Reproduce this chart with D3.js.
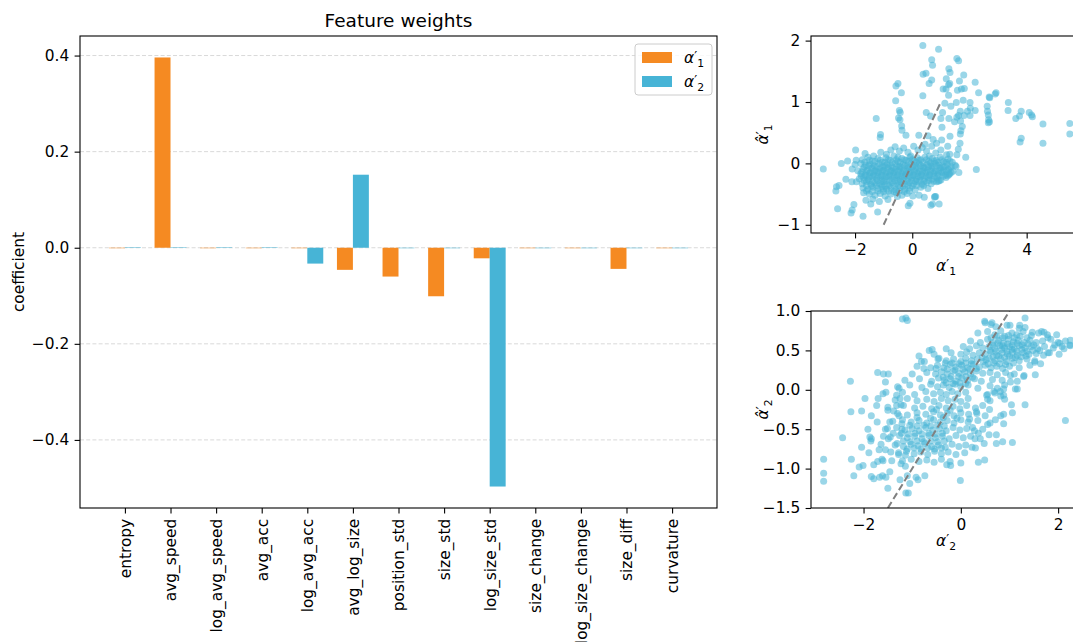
<!DOCTYPE html>
<html>
<head>
<meta charset="utf-8">
<title>Feature weights</title>
<style>
  body { margin: 0; background: #fff; }
  svg { display: block; font-family: "DejaVu Sans", sans-serif; }
</style>
</head>
<body>
<script src="https://cdn.jsdelivr.net/npm/d3@7"></script>
<script>

// ---- data: bar chart ----
var features = ["entropy", "avg_speed", "log_avg_speed", "avg_acc", "log_avg_acc", "avg_log_size",
  "position_std", "size_std", "log_size_std", "size_change", "log_size_change", "size_diff", "curvature"];
var weightsA1 = [-0.001, 0.396, -0.001, -0.001, -0.001, -0.046, -0.060, -0.101, -0.022, -0.001, -0.001, -0.044, -0.001];
var weightsA2 = [0.001, 0.001, 0.001, 0.001, -0.033, 0.152, -0.001, -0.001, -0.497, -0.001, -0.001, -0.001, -0.001];
var barTicks = [-0.4, -0.2, 0.0, 0.2, 0.4];

// ---- data: scatter of alpha'_1 vs its prediction ----
var fit1Ticks = {x: [-2, 0, 2, 4], y: [-1, 0, 1, 2]};
var fit1 = [
  [-3.11,-0.09],[-2.65,-0.38],[-2.56,-0.36],[-2.67,-0.45],[-2.61,-0.74],[-2.14,-0.81],[-2.10,-0.76],[-2.04,-0.67],
  [-1.72,-0.86],[-1.21,-0.79],[-2.32,-0.26],[-2.11,-0.30],[-1.95,-0.30],[-1.98,0.22],[-2.26,0.04],[-2.48,0.00],
  [-2.10,-0.09],[-1.96,0.05],[-1.65,0.16],[-1.26,0.73],[-1.11,0.47],[-1.12,0.42],[-0.57,1.26],[-0.50,1.30],
  [-0.38,1.15],[-0.58,1.02],[-0.45,0.86],[-0.42,0.83],[-0.48,0.74],[-0.43,0.71],[-0.37,0.61],[-0.36,0.54],
  [-0.22,0.46],[0.37,1.92],[0.92,1.86],[0.68,1.69],[0.71,1.60],[0.38,1.45],[0.48,1.47],[0.68,1.36],[0.59,1.30],
  [0.37,1.10],[0.49,0.83],[0.64,0.77],[0.23,0.46],[0.55,0.45],[0.73,0.39],[0.85,0.33],[0.79,-0.54],[0.94,-0.66],
  [1.56,1.71],[1.62,1.67],[1.28,1.54],[1.32,1.48],[1.80,1.44],[1.19,1.38],[1.65,1.34],[1.31,1.30],[1.27,1.28],
  [2.20,1.32],[1.08,1.21],[1.18,1.21],[1.58,1.19],[1.72,1.21],[1.82,1.22],[2.32,1.15],[2.93,1.15],[2.90,1.13],
  [1.27,1.11],[2.71,1.07],[2.69,1.08],[1.78,1.03],[3.36,0.99],[1.14,0.98],[1.54,0.99],[2.02,0.99],[1.35,0.93],
  [2.62,0.93],[2.03,0.90],[3.35,0.86],[3.81,0.85],[4.09,0.83],[4.17,0.79],[4.20,0.76],[1.68,0.85],[1.93,0.85],
  [2.20,0.86],[2.63,0.85],[2.66,0.79],[1.06,0.83],[1.62,0.78],[2.02,0.78],[1.81,0.78],[1.56,0.75],[1.28,0.73],
  [1.00,0.73],[1.48,0.68],[1.69,0.69],[2.67,0.71],[2.70,0.68],[2.66,0.66],[3.62,0.73],[3.75,0.77],[4.57,0.64],
  [5.51,0.65],[5.51,0.48],[3.81,0.41],[3.77,0.35],[4.57,0.33],[1.04,0.59],[1.75,0.60],[1.70,0.53],[1.68,0.48],
  [1.32,0.44],[1.67,0.33],[1.03,0.38],[1.24,0.28],[1.61,0.23],[1.31,0.15],[1.56,0.14],[1.87,0.10],[2.24,-0.10],
  [1.63,-0.15],[1.53,-0.05],[1.29,-0.18],[0.91,-0.29],[0.82,-0.54],[0.24,-0.52],[0.71,-0.66],[-0.52,-0.54],[-1.01,-0.42],
  [-1.35,0.12],[-1.10,0.18],[-0.90,0.15],[-0.75,0.22],[-0.60,0.27],[-0.45,0.20],[-0.30,0.25],[-0.15,0.18],
  [0.05,0.28],[0.20,0.22],[0.35,0.26],[0.50,0.20],[0.68,0.28],[0.82,0.17],[1.00,0.22],[1.20,0.14],[0.45,0.31],
  [-0.05,0.12],[0.60,0.12],[-0.50,0.10],
  [-1.75,0.06],[-1.55,0.10],[-1.40,0.04],[-1.20,0.08],[-1.05,0.02],[-0.92,0.09],[-0.78,0.05],[-0.64,0.12],
  [-0.50,0.03],[-0.36,0.08],[-0.22,0.05],[-0.08,0.10],[0.07,0.04],[0.18,0.09],[0.30,0.06],[0.44,0.10],[0.58,0.03],
  [0.70,0.08],[0.84,0.05],[0.98,0.10],[1.10,0.03],[1.25,0.07],[1.40,0.02],
  [-2.00,-0.02],[-1.80,0.00],[-1.62,-0.03],[-1.48,-0.01],[-1.33,-0.04],[-1.18,0.00],[-1.02,-0.05],[-0.88,-0.02],
  [-0.74,-0.04],[-0.60,0.00],[-0.46,-0.05],[-0.32,-0.02],[-0.18,-0.04],[-0.04,0.00],[0.10,-0.03],[0.24,-0.01],
  [0.38,-0.05],[0.52,-0.02],[0.66,-0.04],[0.80,0.00],[0.94,-0.03],[1.08,-0.05],[1.22,-0.02],[1.36,-0.06],[1.50,-0.03],
  [-1.90,-0.12],[-1.72,-0.09],[-1.56,-0.11],[-1.42,-0.08],[-1.28,-0.12],[-1.14,-0.09],[-1.00,-0.11],[-0.86,-0.08],
  [-0.72,-0.12],[-0.58,-0.10],[-0.44,-0.09],[-0.30,-0.12],[-0.16,-0.08],[-0.02,-0.11],[0.12,-0.09],[0.26,-0.12],
  [0.40,-0.08],[0.54,-0.11],[0.68,-0.09],[0.82,-0.12],[0.96,-0.08],[1.10,-0.11],[1.26,-0.10],[1.42,-0.13],
  [-1.80,-0.17],[-1.65,-0.19],[-1.50,-0.16],[-1.36,-0.18],[-1.22,-0.15],[-1.08,-0.19],[-0.94,-0.16],[-0.80,-0.18],
  [-0.66,-0.15],[-0.52,-0.19],[-0.38,-0.16],[-0.24,-0.18],[-0.10,-0.15],[0.04,-0.19],[0.18,-0.16],[0.32,-0.18],
  [0.46,-0.15],[0.60,-0.19],[0.74,-0.16],[0.88,-0.18],[1.02,-0.15],[1.16,-0.19],[1.30,-0.17],
  [-1.85,-0.25],[-1.70,-0.23],[-1.55,-0.26],[-1.40,-0.22],[-1.25,-0.25],[-1.12,-0.23],[-0.98,-0.26],[-0.84,-0.22],
  [-0.70,-0.25],[-0.56,-0.23],[-0.42,-0.26],[-0.28,-0.22],[-0.14,-0.25],[0.00,-0.23],[0.14,-0.26],[0.28,-0.22],
  [0.42,-0.25],[0.56,-0.23],[0.70,-0.26],[0.86,-0.24],[1.00,-0.27],[1.18,-0.23],
  [-1.75,-0.33],[-1.60,-0.30],[-1.45,-0.34],[-1.30,-0.31],[-1.15,-0.33],[-1.00,-0.30],[-0.85,-0.34],[-0.70,-0.31],
  [-0.55,-0.33],[-0.40,-0.30],[-0.25,-0.34],[-0.10,-0.31],[0.05,-0.33],[0.20,-0.30],[0.35,-0.34],[0.50,-0.31],
  [0.66,-0.33],[0.85,-0.30],
  [-1.72,-0.40],[-1.55,-0.42],[-1.38,-0.39],[-1.20,-0.41],[-1.05,-0.38],[-0.90,-0.42],[-0.74,-0.40],[-0.58,-0.43],
  [-0.42,-0.39],[-0.26,-0.42],[-0.08,-0.40],[0.10,-0.43],[0.30,-0.39],[0.55,-0.41],
  [-1.70,-0.48],[-1.50,-0.50],[-1.30,-0.52],[-1.12,-0.49],[-0.95,-0.53],[-0.75,-0.50],[-0.55,-0.48],[-0.36,-0.52],
  [-0.18,-0.49],[0.02,-0.53],[0.42,-0.55],[0.78,-0.55],
  [-1.62,-0.60],[-1.38,-0.58],[-1.15,-0.62],[-0.85,-0.59],[-0.08,-0.65],[-0.14,-0.69],[0.65,-0.68],[-1.45,-0.66],
  [-1.68,-0.06],[-1.52,-0.04],[-1.38,-0.07],[-1.24,-0.05],[-1.10,-0.07],[-0.96,-0.04],[-0.82,-0.06],[-0.68,-0.07],
  [-0.54,-0.05],[-0.40,-0.06],[-0.26,-0.04],[-0.12,-0.07],[0.02,-0.05],[0.16,-0.06],[0.30,-0.04],[0.44,-0.07],
  [0.58,-0.05],[0.72,-0.06],[0.86,-0.04],[1.00,-0.07],[1.14,-0.05],[1.30,-0.08],
  [-1.76,-0.14],[-1.60,-0.13],[-1.46,-0.15],[-1.32,-0.13],[-1.18,-0.14],[-1.04,-0.13],[-0.90,-0.14],[-0.76,-0.13],
  [-0.62,-0.14],[-0.48,-0.13],[-0.34,-0.14],[-0.20,-0.13],[-0.06,-0.14],[0.08,-0.13],[0.22,-0.14],[0.36,-0.13],
  [0.50,-0.14],[0.64,-0.13],[0.78,-0.14],[0.92,-0.13],[1.06,-0.14],[1.20,-0.13],[1.36,-0.15],
  [-1.78,-0.21],[-1.62,-0.20],[-1.48,-0.21],[-1.33,-0.20],[-1.19,-0.21],[-1.05,-0.20],[-0.91,-0.21],[-0.77,-0.20],
  [-0.63,-0.21],[-0.49,-0.20],[-0.35,-0.21],[-0.21,-0.20],[-0.07,-0.21],[0.07,-0.20],[0.21,-0.21],[0.35,-0.20],
  [0.49,-0.21],[0.63,-0.20],[0.77,-0.21],[0.93,-0.20],[1.08,-0.21],[1.24,-0.20],
  [-1.68,-0.28],[-1.52,-0.28],[-1.38,-0.29],[-1.22,-0.28],[-1.06,-0.29],[-0.92,-0.28],[-0.78,-0.29],[-0.62,-0.28],
  [-0.48,-0.29],[-0.33,-0.28],[-0.18,-0.29],[-0.02,-0.28],[0.12,-0.29],[0.27,-0.28],[0.42,-0.29],[0.58,-0.28],
  [0.75,-0.29],[0.95,-0.28],
  [-1.66,0.02],[-1.50,0.05],[-1.30,0.03],[-1.12,0.05],[-0.96,0.02],[-0.84,0.06],[-0.70,0.02],[-0.56,0.06],
  [-0.42,0.02],[-0.28,0.06],[-0.14,0.03],[0.00,0.06],[0.14,0.02],[0.24,0.05],[0.37,0.02],[0.50,0.06],[0.64,0.01],
  [0.77,0.04],[0.90,0.02],[1.04,0.06],[1.18,0.02],[1.32,0.04],
  [-1.60,-0.36],[-1.42,-0.37],[-1.25,-0.36],[-1.08,-0.35],[-0.95,-0.37],[-0.80,-0.36],[-0.63,-0.37],[-0.48,-0.36],
  [-0.32,-0.37],[-0.16,-0.36],[0.00,-0.37],[0.15,-0.36],[0.40,-0.36],
  [-1.60,-0.45],[-1.40,-0.46],[-1.20,-0.45],[-1.00,-0.46],[-0.82,-0.45],[-0.64,-0.46],[-0.46,-0.45],[-0.28,-0.46],[-0.10,-0.45]
];

// ---- data: scatter of alpha'_2 vs its prediction ----
var fit2Ticks = {x: [-2, 0, 2], y: [-1.5, -1.0, -0.5, 0.0, 0.5, 1.0]};
var fit2 = [
  [-2.82,-0.88],[-2.82,-1.06],[-2.82,-1.16],[-2.43,-0.61],[-2.27,0.11],[-2.26,-0.28],[-2.25,-0.88],[-2.20,-1.09],
  [-2.09,-0.98],[-2.01,-0.96],[-2.04,-0.73],[-2.04,-0.27],[-1.97,-0.11],[-1.84,-0.33],[-1.91,-0.50],[-1.87,-0.60],
  [-1.89,-0.80],[-1.84,-1.10],[-1.79,-0.95],[-1.79,-1.13],[-1.84,-0.62],[-1.85,-0.65],[-1.72,-0.41],[-1.73,-0.20],
  [-1.70,-0.11],[-1.71,0.22],[-1.59,0.20],[-1.49,0.20],[-1.55,0.10],[-1.54,-0.03],[-1.50,-0.26],[-1.68,-0.76],
  [-1.71,-0.91],[-1.62,-0.88],[-1.59,-0.59],[-1.55,-0.76],[-1.64,-0.69],[-1.60,-0.90],[-1.61,-1.09],[-1.67,-1.11],
  [-1.54,-1.11],[-1.50,-1.25],[-1.46,-1.04],[-1.42,-0.90],[-1.44,-0.79],[-1.49,-0.62],[-1.51,-0.49],[-1.39,-0.55],
  [-1.46,-0.41],[-1.38,-0.27],[-1.32,-0.07],[-1.32,-0.20],[-1.27,0.02],[-1.25,-0.11],[-1.23,-0.19],[-1.27,-0.33],
  [-1.21,-0.43],[-1.21,-0.50],[-1.31,-0.68],[-1.28,-0.82],[-1.23,-0.94],[-1.25,-1.14],[-1.13,0.91],[-1.20,0.90],
  [-1.10,0.88],[-1.13,-1.31],[-1.08,-1.31],[-1.05,-1.19],[-1.10,-1.09],[-1.14,-0.97],[-1.14,-0.83],[-0.88,-1.14],
  [-0.92,-1.11],[-0.74,-1.09],[-0.86,0.43],[-0.81,0.36],[-0.76,0.27],[-0.65,0.50],[-0.59,0.51],[-0.47,0.39],[-0.51,0.27],
  [0.49,0.87],[0.64,0.85],[1.32,0.91],[1.01,0.82],[1.21,0.82],[1.32,0.79],[1.47,0.73],[1.66,0.74],[1.71,0.73],
  [1.97,0.70],[2.25,0.63],[2.24,0.57],[2.12,0.52],[2.02,0.45],[1.93,0.57],[2.03,0.59],[1.79,0.66],[1.79,0.47],
  [1.64,0.33],[1.52,0.37],[1.53,0.19],[1.29,0.17],[1.16,0.11],[1.16,0.01],[1.04,-0.19],[1.32,-0.19],[2.15,-0.39],
  [1.06,-0.29],[0.88,-0.31],[0.88,-0.43],[0.82,-0.33],[0.71,-0.38],[0.59,-0.25],[0.60,-0.42],[0.58,-0.57],
  [0.73,-0.57],[0.73,-0.68],[0.86,-0.66],[1.06,-0.67],[0.48,-0.68],[0.36,-0.55],[0.49,-0.89],[0.36,-0.92],
  [-0.01,-1.15],[0.00,-0.93],[-0.21,-0.96],[-0.29,-0.95],[0.23,-0.73],[0.29,-0.62],[0.24,-0.48],[0.18,-0.37],
  [0.33,-0.30],[0.53,-0.07],[0.55,-0.12],[0.68,-0.02],[0.88,-0.07],[0.81,-0.02],[0.88,0.01],[1.12,0.01],[1.02,0.18],
  [0.50,0.85],[0.62,0.83],[0.72,0.80],[0.95,0.82],[1.20,0.78],
  [0.35,0.72],[0.55,0.74],[0.70,0.70],[0.82,0.75],[0.90,0.68],[1.05,0.72],[1.15,0.70],[1.28,0.74],[1.45,0.69],[1.60,0.72],[1.78,0.70],
  [0.20,0.62],[0.40,0.60],[0.55,0.64],[0.66,0.60],[0.78,0.63],[0.88,0.59],[0.98,0.64],[1.08,0.61],[1.18,0.63],
  [1.30,0.60],[1.42,0.63],[1.55,0.60],[1.68,0.62],[1.85,0.64],[2.00,0.60],[2.15,0.62],
  [-0.30,0.52],[0.05,0.55],[0.18,0.52],[0.32,0.56],[0.45,0.53],[0.58,0.55],[0.70,0.52],[0.80,0.56],[0.90,0.53],
  [1.00,0.55],[1.10,0.52],[1.20,0.56],[1.32,0.53],[1.45,0.55],[1.58,0.52],[1.72,0.55],[1.90,0.53],[2.08,0.55],[2.25,0.56],
  [-0.55,0.45],[-0.20,0.47],[0.00,0.45],[0.12,0.48],[0.25,0.44],[0.38,0.47],[0.50,0.45],[0.62,0.48],[0.74,0.44],
  [0.85,0.47],[0.96,0.45],[1.06,0.48],[1.16,0.44],[1.28,0.47],[1.40,0.45],[1.55,0.46],[1.70,0.44],[1.82,0.47],
  [-0.75,0.36],[-0.45,0.40],[-0.30,0.37],[-0.15,0.39],[0.00,0.36],[0.10,0.40],[0.22,0.37],[0.34,0.39],[0.46,0.36],
  [0.58,0.40],[0.70,0.37],[0.82,0.39],[0.94,0.36],[1.06,0.40],[1.20,0.37],[1.36,0.39],[1.52,0.35],
  [-0.90,0.30],[-0.62,0.28],[-0.48,0.31],[-0.35,0.28],[-0.22,0.32],[-0.10,0.29],[0.02,0.31],[0.14,0.28],[0.26,0.32],
  [0.38,0.29],[0.50,0.31],[0.62,0.28],[0.74,0.30],[0.86,0.27],[1.00,0.30],[1.20,0.28],[1.42,0.31],
  [-1.00,0.20],[-0.70,0.22],[-0.52,0.20],[-0.40,0.23],[-0.28,0.20],[-0.16,0.24],[-0.04,0.21],[0.08,0.23],[0.20,0.20],
  [0.32,0.24],[0.45,0.21],[0.60,0.22],[0.75,0.19],[0.92,0.22],[1.10,0.20],[1.30,0.18],
  [-1.15,0.12],[-0.85,0.14],[-0.60,0.11],[-0.46,0.15],[-0.34,0.12],[-0.22,0.14],[-0.10,0.11],[0.02,0.15],[0.14,0.12],
  [0.28,0.14],[0.42,0.11],[0.65,0.13],[0.85,0.12],[1.02,0.10],
  [-1.30,0.04],[-1.05,0.06],[-0.80,0.03],[-0.62,0.07],[-0.48,0.04],[-0.36,0.06],[-0.24,0.03],[-0.12,0.07],[0.00,0.04],
  [0.15,0.06],[0.35,0.02],[0.60,0.05],[0.75,0.02],[0.90,0.06],
  [-1.60,-0.05],[-1.20,-0.03],[-0.95,-0.06],[-0.72,-0.02],[-0.56,-0.05],[-0.42,-0.03],[-0.30,-0.06],[-0.18,-0.02],
  [-0.06,-0.05],[0.10,-0.03],[0.55,-0.06],[0.70,-0.04],[0.82,-0.08],
  [-1.35,-0.13],[-1.10,-0.11],[-0.90,-0.14],[-0.70,-0.12],[-0.55,-0.15],[-0.40,-0.11],[-0.26,-0.14],[-0.12,-0.12],
  [0.00,-0.15],[0.15,-0.11],[0.60,-0.14],[0.90,-0.12],
  [-1.50,-0.22],[-1.18,-0.20],[-0.95,-0.23],[-0.78,-0.21],[-0.60,-0.24],[-0.45,-0.20],[-0.30,-0.23],[-0.16,-0.21],
  [-0.02,-0.24],[0.12,-0.20],[0.30,-0.23],[0.45,-0.20],
  [-1.30,-0.30],[-1.10,-0.32],[-0.90,-0.29],[-0.72,-0.31],[-0.56,-0.28],[-0.42,-0.32],[-0.28,-0.30],[-0.14,-0.33],
  [0.00,-0.29],[0.16,-0.31],[0.32,-0.28],[0.50,-0.33],
  [-1.40,-0.40],[-1.20,-0.38],[-1.02,-0.41],[-0.86,-0.39],[-0.70,-0.42],[-0.56,-0.38],[-0.42,-0.41],[-0.28,-0.39],
  [-0.14,-0.42],[0.00,-0.38],[0.15,-0.41],[0.35,-0.39],[0.55,-0.44],
  [-1.55,-0.50],[-1.32,-0.48],[-1.15,-0.51],[-1.00,-0.49],[-0.86,-0.52],[-0.72,-0.48],[-0.58,-0.51],[-0.44,-0.49],
  [-0.30,-0.52],[-0.16,-0.48],[-0.02,-0.51],[0.12,-0.49],[0.28,-0.52],[0.45,-0.50],
  [-1.45,-0.60],[-1.26,-0.58],[-1.10,-0.61],[-0.95,-0.59],[-0.80,-0.62],[-0.66,-0.58],[-0.52,-0.61],[-0.38,-0.59],
  [-0.24,-0.62],[-0.10,-0.58],[0.05,-0.61],[0.20,-0.59],[0.40,-0.62],
  [-1.35,-0.70],[-1.18,-0.72],[-1.02,-0.69],[-0.88,-0.71],[-0.74,-0.68],[-0.60,-0.72],[-0.46,-0.70],[-0.32,-0.73],
  [-0.18,-0.69],[-0.04,-0.72],[0.10,-0.70],[0.30,-0.74],
  [-1.28,-0.80],[-1.12,-0.78],[-0.96,-0.81],[-0.82,-0.79],[-0.68,-0.82],[-0.54,-0.78],[-0.40,-0.81],[-0.26,-0.79],
  [-0.10,-0.82],[0.08,-0.80],
  [-1.20,-0.90],[-1.02,-0.88],[-0.86,-0.91],[-0.70,-0.89],[-0.55,-0.92],[-0.40,-0.88],[-0.22,-0.91],
  [0.62,0.66],[0.74,0.68],[0.86,0.66],[0.98,0.69],[1.10,0.66],[1.22,0.68],[1.36,0.66],
  [0.66,0.57],[0.76,0.59],[0.86,0.56],[0.96,0.58],[1.06,0.57],[1.16,0.59],[1.26,0.57],[1.38,0.58],[1.50,0.57],
  [0.60,0.50],[0.72,0.49],[0.84,0.51],[0.95,0.49],[1.05,0.51],[1.15,0.49],[1.25,0.51],[1.36,0.49],[1.48,0.50],[1.62,0.50],
  [0.66,0.42],[0.78,0.43],[0.90,0.41],[1.00,0.43],[1.12,0.41],[1.24,0.42],[1.34,0.43],
  [0.44,0.41],[0.52,0.38],[0.56,0.33],[0.68,0.34],[0.80,0.33],[0.92,0.32],[1.08,0.34],
  [-0.36,0.16],[-0.28,0.26],[-0.20,0.17],[-0.12,0.25],[-0.05,0.17],[0.04,0.26],[0.10,0.17],[0.18,0.26],[0.24,0.16],
  [0.32,0.27],[-0.32,0.34],[-0.18,0.34],[-0.04,0.33],[0.10,0.34],[0.22,0.33],[-0.30,0.09],[-0.16,0.08],[-0.02,0.09],[0.10,0.08],
  [-1.22,-0.55],[-1.08,-0.56],[-0.94,-0.55],[-0.80,-0.56],[-0.66,-0.55],[-0.52,-0.56],[-0.38,-0.55],
  [-1.18,-0.65],[-1.04,-0.66],[-0.90,-0.65],[-0.76,-0.66],[-0.62,-0.65],[-0.48,-0.66],[-0.34,-0.65],
  [-1.10,-0.75],[-0.96,-0.74],[-0.82,-0.75],[-0.68,-0.74],[-0.54,-0.75],[-0.40,-0.74],
  [-1.05,-0.45],[-0.90,-0.46],[-0.76,-0.45],[-0.62,-0.46],[-0.48,-0.45],[-0.34,-0.46],
  [-0.90,-0.35],[-0.62,-0.36],[-0.50,-0.25],[-0.36,-0.35],[-0.22,-0.26],[-0.08,-0.36]
];

var orange = "#f58a22", blue = "#47b4d6";
var fs = 15.4, tickLen = 5.4, tickPad = 5.4;

var svg = d3.select("body").append("svg")
  .attr("width", 1073)
  .attr("height", 642);

svg.append("rect").attr("width", 1073).attr("height", 642).attr("fill", "#fff");

// style an axis group the matplotlib way
function styleAxis(g){
  g.select(".domain").remove();
  g.selectAll(".tick line").attr("stroke", "#000").attr("stroke-width", 1.1);
  g.selectAll(".tick text").attr("fill", "#000").style("font-size", fs + "px")
    .style("font-family", "'DejaVu Sans', sans-serif");
}

// italic alpha with prime and subscript, optional hat
function alphaLabel(t, hat, idx){
  t.style("font-style", "italic").style("font-size", fs + "px");
  t.append("tspan").text(hat ? "\u03b1\u0302" : "\u03b1");
  t.append("tspan").attr("font-size", "0.85em").attr("dy", "-0.2em").style("font-style", "normal").text("\u2032");
  t.append("tspan").attr("font-size", "0.7em").style("font-style", "normal")
    .attr("dy", "0.65em").text(idx);
}

// ================= bar chart =================
var bx = d3.scaleLinear().domain([-0.985, 12.985]).range([80, 717]);
var by = d3.scaleLinear().domain([-0.5417, 0.4407]).range([508, 36]);
var bw = bx(0.35) - bx(0);

var barG = svg.append("g");

barG.selectAll("line.grid")
  .data(barTicks)
  .enter().append("line")
  .attr("class", "grid")
  .attr("x1", 80).attr("x2", 717)
  .attr("y1", function(d){ return by(d); })
  .attr("y2", function(d){ return by(d); })
  .attr("stroke", "#d9d9d9")
  .attr("stroke-width", 1)
  .attr("stroke-dasharray", "4,2.2");

function drawBars(vals, color, offset){
  barG.selectAll(null)
    .data(vals)
    .enter().append("rect")
    .attr("x", function(d, i){ return bx(i + offset); })
    .attr("width", bw)
    .attr("y", function(d){ return Math.min(by(d), by(0)); })
    .attr("height", function(d){ return Math.abs(by(d) - by(0)); })
    .attr("fill", color);
}
drawBars(weightsA1, orange, -0.35);
drawBars(weightsA2, blue, 0);

var byAxis = svg.append("g")
  .attr("transform", "translate(80,0)")
  .call(d3.axisLeft(by).tickValues(barTicks).tickFormat(d3.format(".1f"))
    .tickSize(tickLen).tickPadding(tickPad).tickSizeOuter(0));
styleAxis(byAxis);

var bxAxis = svg.append("g")
  .attr("transform", "translate(0,508)")
  .call(d3.axisBottom(bx).tickValues(d3.range(features.length))
    .tickFormat(function(i){ return features[i]; })
    .tickSize(tickLen).tickPadding(tickPad).tickSizeOuter(0));
styleAxis(bxAxis);
bxAxis.selectAll(".tick text")
  .attr("transform", "rotate(-90)")
  .attr("x", -(tickLen + tickPad))
  .attr("y", 0)
  .attr("dy", "0.35em")
  .style("text-anchor", "end");

barG.append("rect")
  .attr("x", 80).attr("y", 36).attr("width", 637).attr("height", 472)
  .attr("fill", "none").attr("stroke", "#000").attr("stroke-width", 1.1);

svg.append("text")
  .attr("x", 398.5).attr("y", 27)
  .attr("text-anchor", "middle")
  .style("font-size", "18.5px")
  .text("Feature weights");

svg.append("text")
  .attr("transform", "translate(24,272) rotate(-90)")
  .attr("text-anchor", "middle")
  .style("font-size", fs + "px")
  .text("coefficient");

// legend
var leg = svg.append("g").attr("transform", "translate(635,44)");
leg.append("rect")
  .attr("width", 77).attr("height", 51).attr("rx", 3)
  .attr("fill", "#fff").attr("fill-opacity", 0.8)
  .attr("stroke", "#cccccc").attr("stroke-width", 1);
[orange, blue].forEach(function(c, i){
  leg.append("rect")
    .attr("x", 7).attr("y", 8 + i * 24)
    .attr("width", 30).attr("height", 11)
    .attr("fill", c);
  alphaLabel(leg.append("text").attr("x", 49).attr("y", 19 + i * 24), false, String(i + 1));
});

// ================= scatter panels =================
function drawScatter(pts, box, xDom, yDom, ticks, yFmt, idx, line){
  var x = d3.scaleLinear().domain(xDom).range([box.left, box.right]);
  var y = d3.scaleLinear().domain(yDom).range([box.bottom, box.top]);
  var g = svg.append("g");
  var clipId = "clip" + idx;
  g.append("clipPath").attr("id", clipId)
    .append("rect")
    .attr("x", box.left).attr("y", box.top)
    .attr("width", box.right - box.left).attr("height", box.bottom - box.top);

  var inner = g.append("g").attr("clip-path", "url(#" + clipId + ")");
  inner.selectAll("circle")
    .data(pts)
    .enter().append("circle")
    .attr("cx", function(d){ return x(d[0]); })
    .attr("cy", function(d){ return y(d[1]); })
    .attr("r", 3.5)
    .attr("fill", blue)
    .attr("fill-opacity", 0.55);

  inner.append("line")
    .attr("x1", x(line[0])).attr("y1", y(line[0]))
    .attr("x2", x(line[1])).attr("y2", y(line[1]))
    .attr("stroke", "#808080").attr("stroke-width", 2)
    .attr("stroke-dasharray", "7,3.5");

  var xa = g.append("g").attr("transform", "translate(0," + box.bottom + ")")
    .call(d3.axisBottom(x).tickValues(ticks.x).tickFormat(d3.format("d"))
      .tickSize(tickLen).tickPadding(tickPad).tickSizeOuter(0));
  styleAxis(xa);
  var ya = g.append("g").attr("transform", "translate(" + box.left + ",0)")
    .call(d3.axisLeft(y).tickValues(ticks.y).tickFormat(d3.format(yFmt))
      .tickSize(tickLen).tickPadding(tickPad).tickSizeOuter(0));
  styleAxis(ya);

  g.append("rect")
    .attr("x", box.left).attr("y", box.top)
    .attr("width", box.right - box.left).attr("height", box.bottom - box.top)
    .attr("fill", "none").attr("stroke", "#000").attr("stroke-width", 1.1);

  var cx = (box.left + box.right) / 2;
  alphaLabel(g.append("text").attr("x", cx - 10).attr("y", box.bottom + 38), false, idx);
  var cy = (box.top + box.bottom) / 2;
  alphaLabel(g.append("text").attr("transform", "translate(768," + (cy + 10) + ") rotate(-90)"), true, idx);
}

drawScatter(fit1, {left: 811, right: 1081, top: 36, bottom: 233},
  [-3.54, 5.90], [-1.134, 2.075], fit1Ticks, "d", "1", [-1, 1]);
drawScatter(fit2, {left: 811, right: 1081, top: 311, bottom: 508},
  [-3.08, 2.47], [-1.5, 1.0], fit2Ticks, ".1f", "2", [-1.5, 1]);

</script>
</body>
</html>
